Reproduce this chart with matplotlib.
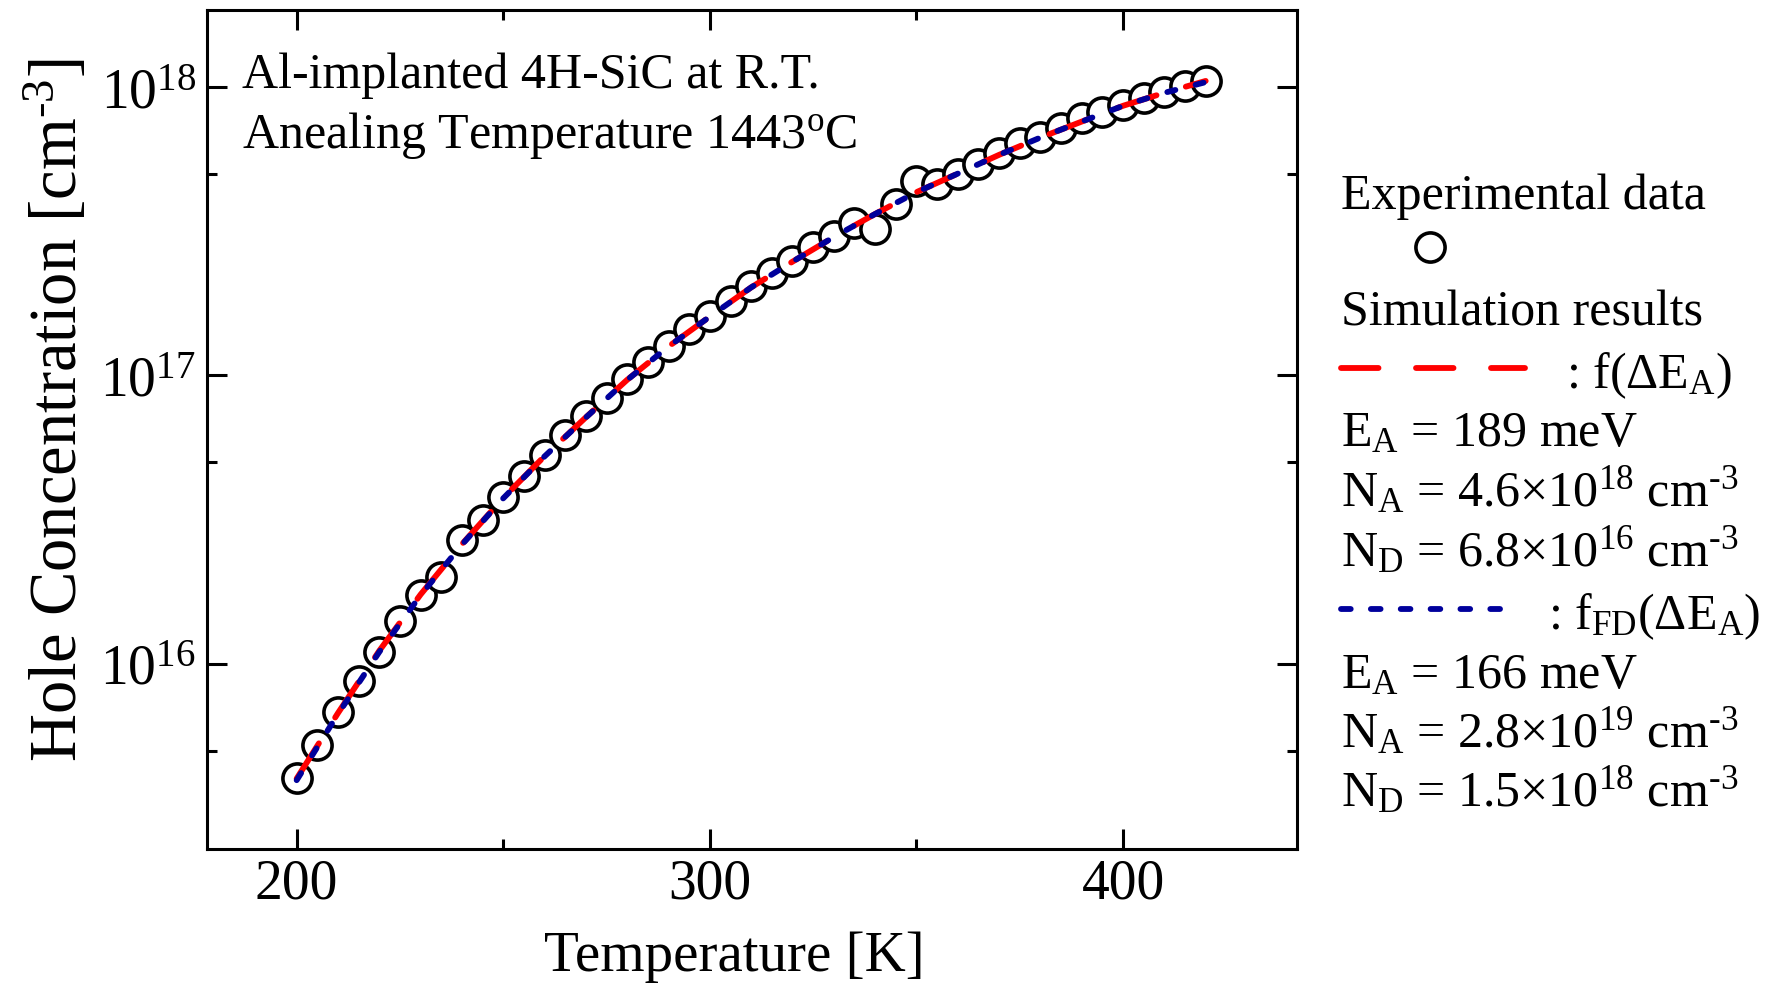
import matplotlib
matplotlib.use("Agg")
import matplotlib.pyplot as plt
from matplotlib.lines import Line2D
from matplotlib.ticker import LogLocator, MultipleLocator, NullFormatter

# -------------------------------
# experimental points
T_exp = [200, 205, 210, 215, 220, 225, 230, 235, 240, 245, 250, 255, 260, 265,
         270, 275, 280, 285, 290, 295, 300, 305, 310, 315, 320, 325, 330, 335,
         340, 345, 350, 355, 360, 365, 370, 375, 380, 385, 390, 395, 400, 405,
         410, 415, 420]
p_exp = [4.03e15, 5.24e15, 6.79e15, 8.73e15, 1.10e16, 1.41e16, 1.73e16, 2.00e16,
         2.69e16, 3.16e16, 3.78e16, 4.49e16, 5.28e16, 6.21e16, 7.23e16, 8.36e16,
         9.72e16, 1.11e17, 1.26e17, 1.45e17, 1.61e17, 1.81e17, 2.04e17, 2.26e17,
         2.50e17, 2.79e17, 3.05e17, 3.37e17, 3.22e17, 3.93e17, 4.74e17, 4.61e17,
         5.00e17, 5.42e17, 5.89e17, 6.38e17, 6.73e17, 7.23e17, 7.78e17, 8.20e17,
         8.67e17, 9.14e17, 9.64e17, 1.01e18, 1.05e18]

# simulation curves
T_sim = [200, 210, 220, 230, 240, 250, 260, 270, 280, 290, 300, 310, 320, 330,
         340, 350, 360, 370, 380, 390, 400, 410, 420]
p_f = [4.0e15, 6.75e15, 1.11e16, 1.74e16, 2.60e16, 3.76e16, 5.25e16, 7.16e16,
       9.66e16, 1.26e17, 1.60e17, 2.02e17, 2.48e17, 3.02e17, 3.63e17, 4.32e17,
       5.01e17, 5.82e17, 6.68e17, 7.59e17, 8.61e17, 9.55e17, 1.05e18]
p_fd = [3.95e15, 6.7e15, 1.10e16, 1.73e16, 2.59e16, 3.75e16, 5.24e16, 7.15e16,
        9.65e16, 1.26e17, 1.60e17, 2.02e17, 2.48e17, 3.02e17, 3.63e17, 4.32e17,
        5.01e17, 5.82e17, 6.68e17, 7.59e17, 8.61e17, 9.55e17, 1.04e18]

annot_lines = ["Al-implanted 4H-SiC at R.T.",
               "Anealing Temperature 1443$^{\\mathrm{o}}$C"]
params_f = ["E$_\\mathrm{A}$ = 189 meV",
            "N$_\\mathrm{A}$ = 4.6×10$^{18}$ cm$^{\\text{-3}}$",
            "N$_\\mathrm{D}$ = 6.8×10$^{16}$ cm$^{\\text{-3}}$"]
params_fd = ["E$_\\mathrm{A}$ = 166 meV",
             "N$_\\mathrm{A}$ = 2.8×10$^{19}$ cm$^{\\text{-3}}$",
             "N$_\\mathrm{D}$ = 1.5×10$^{18}$ cm$^{\\text{-3}}$"]
# -------------------------------

plt.rcParams['font.family'] = ['Liberation Serif', 'DejaVu Serif']
plt.rcParams['mathtext.fontset'] = 'custom'
plt.rcParams['mathtext.rm'] = 'Liberation Serif'
plt.rcParams['mathtext.it'] = 'Liberation Serif:italic'
plt.rcParams['mathtext.bf'] = 'Liberation Serif:bold'
plt.rcParams['lines.scale_dashes'] = False

W, H = 1769, 987
RED = '#ff0000'
BLUE = '#00009c'
MS = 21
MEW = 2.6
LW = 4.2


def fx(px):
    return px / W


def fy(py):
    return 1 - py / H


fig = plt.figure(figsize=(W / 100, H / 100), dpi=100)
ax = fig.add_axes([fx(207), fy(850), 1090 / W, 839 / H])

ax.plot(T_exp, p_exp, linestyle='none', marker='o', ms=MS, mfc='white',
        mec='black', mew=MEW, zorder=2)
ax.plot(T_sim, p_f, color=RED, lw=LW, dashes=(30, 22), dash_capstyle='round',
        zorder=3)
ax.plot(T_sim, p_fd, color=BLUE, lw=LW, dashes=(6, 15), dash_capstyle='round',
        zorder=4)

ax.set_yscale('log')
ax.set_xlim(178.3, 442.1)
ax.set_ylim(2.28e15, 1.85e18)

ax.set_xticks([200, 300, 400])
ax.xaxis.set_minor_locator(MultipleLocator(50))
ax.yaxis.set_major_locator(LogLocator(base=10, numticks=10))
ax.yaxis.set_minor_locator(LogLocator(base=10, subs=[5.0], numticks=10))
ax.yaxis.set_minor_formatter(NullFormatter())

ax.tick_params(which='both', direction='in', top=True, right=True, width=2.2)
ax.tick_params(which='major', length=14.4, labelsize=40)
ax.tick_params(which='minor', length=7.5)
ax.tick_params(axis='x', which='major', pad=6)
ax.tick_params(axis='y', which='major', pad=8)
for s in ax.spines.values():
    s.set_linewidth(2.2)

ax.set_xlabel('Temperature [K]', fontsize=41, va='center')
ax.xaxis.set_label_coords(0.484, -0.1275)
ax.set_ylabel('Hole Concentration [cm$^{\\text{-3}}$]', fontsize=48, va='center')
ax.yaxis.set_label_coords(-0.137, 0.525)

# annotation inside the axes
fig.text(fx(242), fy(88), annot_lines[0], fontsize=36, va='baseline')
fig.text(fx(242), fy(148), annot_lines[1], fontsize=36, va='baseline')

# hand made legend on the right
lx = fx(1341)
fs = 36
fig.text(lx, fy(209), 'Experimental data', fontsize=fs, va='baseline')
fig.add_artist(Line2D([fx(1430)], [fy(248)], transform=fig.transFigure,
                      linestyle='none', marker='o', ms=MS, mfc='white',
                      mec='black', mew=MEW))
fig.text(lx, fy(326), 'Simulation results', fontsize=fs, va='baseline')

fig.add_artist(Line2D([fx(1341), fx(1525)], [fy(369), fy(369)],
                      transform=fig.transFigure, color=RED, lw=LW,
                      dashes=(27, 27), dash_capstyle='round'))
fig.text(fx(1566), fy(388), ': f(ΔE$_\\mathrm{A}$)', fontsize=fs, va='baseline')
for txt, py in zip(params_f, [446, 506, 566]):
    fig.text(lx, fy(py), txt, fontsize=fs, va='baseline')

fig.add_artist(Line2D([fx(1341), fx(1504)], [fy(610), fy(610)],
                      transform=fig.transFigure, color=BLUE, lw=LW,
                      dashes=(7, 14.5), dash_capstyle='round'))
fig.text(fx(1548), fy(629), ': f$_\\mathrm{FD}$(ΔE$_\\mathrm{A}$)', fontsize=fs,
         va='baseline')
for txt, py in zip(params_fd, [688, 747, 806]):
    fig.text(lx, fy(py), txt, fontsize=fs, va='baseline')

fig.savefig('out.png', dpi=100)
